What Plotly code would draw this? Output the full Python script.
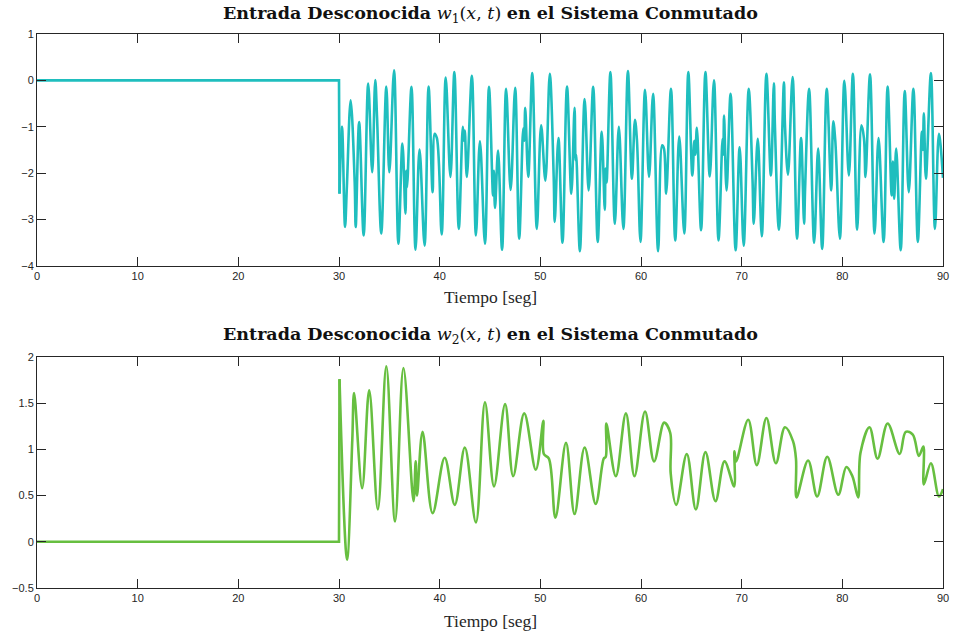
import plotly.graph_objects as go

# ---------------- data ----------------
# flat part (before the switching instant) + vertical step
t_flat1 = [0, 30, 30.05]
w1_flat = [0, 0, -2.44]
t_flat2 = [0, 30, 30.05]
w2_flat = [0, 0, 1.76]

# w1(x,t): extrema / shape points
t1 = [30.05, 30.3, 30.6, 30.78, 31.16, 31.56, 31.66, 32.0, 32.45, 32.9, 33.3, 33.6, 33.78, 34.2,
      34.7, 35.0, 35.47, 35.9, 36.3, 36.6, 36.68, 36.76, 37.2, 37.6, 38.0, 38.5, 38.9, 39.3, 39.5,
      39.73, 40.2, 40.6, 41.07, 41.46, 41.9, 42.3, 42.42, 42.5, 42.7, 43.2, 43.6, 44.0, 44.5, 44.9,
      45.3, 45.38, 45.5, 45.8, 46.2, 46.6, 47.05, 47.5, 47.9, 48.3, 48.4, 48.5, 48.8, 49.2, 49.65,
      50.08, 50.5, 50.94, 51.33, 51.43, 51.8, 52.2, 52.65, 53.08, 53.4, 53.5, 53.56, 53.93, 54.4,
      54.8, 55.25, 55.7, 56.1, 56.4, 56.48, 56.58, 56.96, 57.4, 57.8, 58.25, 58.7, 59.1, 59.4, 59.6,
      59.95, 60.4, 60.8, 61.2, 61.7, 62.1, 62.28, 62.5, 62.98, 63.4, 63.8, 64.3, 64.7, 65.1, 65.3,
      65.4, 65.55, 65.97, 66.4, 66.83, 67.25, 67.7, 68.1, 68.18, 68.25, 68.5, 68.9, 69.4, 69.8, 70.2,
      70.7, 71.08, 71.2, 71.6, 72.0, 72.46, 72.9, 73.2, 73.3, 73.7, 74.2, 74.3, 74.6, 75.06, 75.5,
      75.9, 76.2, 76.3, 76.7, 77.2, 77.6, 78.0, 78.45, 78.9, 79.1, 79.3, 79.76, 80.2, 80.65, 81.05,
      81.47, 81.9, 82.15, 82.3, 82.75, 83.2, 83.6, 84.1, 84.5, 84.9, 85.03, 85.15, 85.35, 85.8, 86.2,
      86.6, 87.06, 87.5, 87.9, 88.0, 88.1, 88.3, 88.8, 89.2, 89.6, 90.0]
w1 = [-2.44, -1.0, -3.16, -2.3, -0.43, -2.2, -3.16, -0.9, -3.34, -0.07, -1.98, 0.01, -0.8, -3.3,
      -0.13, -1.98, 0.22, -3.52, -1.36, -2.87, -1.95, -2.3, -0.14, -3.65, -1.49, -3.56, -0.13, -2.41, -1.15,
      -1.25, -3.32, 0.06, -2.08, 0.18, -3.2, -1.0, -1.3, -1.08, -2.08, 0.1, -3.34, -1.31, -3.52, -0.14,
      -2.48, -1.95, -2.75, -1.51, -3.65, -0.18, -2.36, -0.16, -3.41, -1.04, -1.3, -0.59, -2.08, 0.16, -3.2,
      -0.97, -2.16, 0.14, -2.1, -3.05, -1.24, -3.5, -0.13, -2.44, -0.59, -1.72, -1.6, -3.68, -0.4,
      -2.37, -0.14, -3.48, -1.11, -2.79, -1.9, -2.2, 0.18, -3.09, -1.0, -3.2, 0.2, -2.12, -0.85, -1.3,
      -3.48, -0.2, -2.08, -0.29, -3.68, -1.4, -1.47, -2.44, -0.18, -3.45, -1.21, -3.3, 0.18, -2.05, -1.3,
      -1.6, -1.02, -3.23, 0.18, -2.07, 0.0, -3.45, -1.26, -1.6, -0.76, -2.37, -0.29, -3.66, -1.44, -3.56,
      -0.18, -2.15, -3.09, -1.26, -3.36, 0.14, -2.05, -0.06, -0.95, -3.22, -0.04, -0.95, -2.03, 0.07, -3.41,
      -1.24, -3.09, -2.34, -0.18, -3.5, -1.47, -3.63, -0.18, -2.37, -0.88, -1.3, -3.41, -0.01, -2.05, 0.14,
      -3.22, -0.97, -1.25, -2.08, 0.13, -3.3, -1.24, -3.48, -0.13, -2.48, -1.75, -2.55, -1.47, -3.66, -0.23,
      -2.41, -0.18, -3.48, -1.11, -1.5, -0.71, -2.12, 0.16, -3.2, -1.15, -2.1]

# w2(x,t): extrema / shape points
t2 = [30.05, 30.8, 31.32, 31.5, 32.3, 33.0, 33.86, 34.7, 35.57, 36.4, 37.4, 37.62, 37.75, 38.3,
      39.3, 40.5, 41.5, 42.5, 43.6, 44.5, 45.4, 46.5, 47.3, 48.4, 49.55, 50.3, 50.35, 50.85, 51.5,
      52.55, 53.4, 54.4, 55.5, 56.3, 56.5, 56.56, 57.5, 58.5, 59.35, 60.4, 61.3, 62.3, 62.9, 62.95,
      63.5, 64.55, 65.45, 66.4, 67.4, 68.3, 69.25, 69.28, 69.45, 70.65, 71.5, 72.46, 73.4, 74.3,
      75.1, 75.4, 75.45, 76.6, 77.5, 78.5, 79.6, 80.4, 81.0, 81.57, 81.8, 82.7, 83.5, 84.5, 85.7,
      86.3, 87.0, 87.6, 88.05, 88.1, 88.8, 89.6, 90.0]
w2 = [1.76, -0.195, 1.1, 1.61, 0.58, 1.64, 0.35, 1.9, 0.22, 1.88, 0.44, 0.87, 0.5, 1.19,
      0.31, 0.91, 0.4, 1.02, 0.21, 1.51, 0.6, 1.49, 0.71, 1.39, 0.78, 1.31, 0.95, 0.9, 0.26,
      1.07, 0.3, 1.02, 0.41, 0.9, 0.92, 1.28, 0.71, 1.39, 0.71, 1.41, 0.87, 1.29, 1.18, 0.74,
      0.4, 0.95, 0.35, 0.97, 0.44, 0.87, 0.6, 0.98, 0.87, 1.32, 0.83, 1.34, 0.85, 1.24,
      1.09, 0.89, 0.48, 0.88, 0.49, 0.92, 0.51, 0.81, 0.71, 0.48, 0.96, 1.24, 0.9, 1.28, 0.95,
      1.19, 1.16, 0.93, 1.03, 0.62, 0.85, 0.49, 0.57]

x_ticks = [0, 10, 20, 30, 40, 50, 60, 70, 80, 90]
y1_ticks = [-4, -3, -2, -1, 0, 1]
y2_ticks = [-0.5, 0, 0.5, 1, 1.5, 2]

title1 = "<b>Entrada Desconocida</b> <i>w</i><sub>1</sub>(<i>x</i>, <i>t</i>) <b>en el Sistema Conmutado</b>"
title2 = "<b>Entrada Desconocida</b> <i>w</i><sub>2</sub>(<i>x</i>, <i>t</i>) <b>en el Sistema Conmutado</b>"
xlabel = "Tiempo [seg]"

# ---------------- figure ----------------
c1 = "rgb(31,190,190)"
c2 = "rgb(103,191,64)"
lw = 2.6

fig = go.Figure()
fig.add_trace(go.Scatter(x=t_flat1, y=w1_flat, mode="lines", line=dict(color=c1, width=lw),
                         xaxis="x", yaxis="y", showlegend=False, hoverinfo="skip"))
fig.add_trace(go.Scatter(x=t1, y=w1, mode="lines", line=dict(color=c1, width=lw, shape="spline"),
                         xaxis="x", yaxis="y", showlegend=False))
fig.add_trace(go.Scatter(x=t_flat2, y=w2_flat, mode="lines", line=dict(color=c2, width=lw),
                         xaxis="x2", yaxis="y2", showlegend=False, hoverinfo="skip"))
fig.add_trace(go.Scatter(x=t2, y=w2, mode="lines", line=dict(color=c2, width=lw, shape="spline"),
                         xaxis="x2", yaxis="y2", showlegend=False))

axis_col = "#262626"
tick_font = dict(family="Liberation Sans, Arial, sans-serif", size=11, color=axis_col)
common = dict(showline=True, linecolor=axis_col, linewidth=1, mirror="ticks", ticks="inside",
              ticklen=9, tickwidth=1, tickcolor=axis_col, showgrid=False, zeroline=False,
              tickfont=tick_font)

fig.update_layout(
    width=956, height=637,
    margin=dict(l=37, r=7, t=34, b=49),
    paper_bgcolor="white", plot_bgcolor="white",
    xaxis=dict(domain=[0, 1], range=[0, 90], tickvals=x_ticks, anchor="y", **common),
    yaxis=dict(domain=[0.5812, 1], range=[-4, 1], tickvals=y1_ticks, anchor="x", **common),
    xaxis2=dict(domain=[0, 1], range=[0, 90], tickvals=x_ticks, anchor="y2", **common),
    yaxis2=dict(domain=[0, 0.417], range=[-0.5, 2], tickvals=y2_ticks,
                ticktext=["\u22120.5", "0", "0.5", "1", "1.5", "2"], anchor="x2", **common),
)

title_font = dict(family="DejaVu Serif, serif", size=17.5, color="#111111")
label_font = dict(family="Liberation Serif, serif", size=17.5, color="#262626")
fig.add_annotation(text=title1, x=0.5, y=1.0343, xref="paper", yref="paper",
                   xanchor="center", yanchor="middle", showarrow=False, font=title_font)
fig.add_annotation(text=title2, x=0.5, y=0.4549, xref="paper", yref="paper",
                   xanchor="center", yanchor="middle", showarrow=False, font=title_font)
fig.add_annotation(text=xlabel, x=0.5, y=0.5253, xref="paper", yref="paper",
                   xanchor="center", yanchor="middle", showarrow=False, font=label_font)
fig.add_annotation(text=xlabel, x=0.5, y=-0.0596, xref="paper", yref="paper",
                   xanchor="center", yanchor="middle", showarrow=False, font=label_font)

fig.write_html("out.html")
